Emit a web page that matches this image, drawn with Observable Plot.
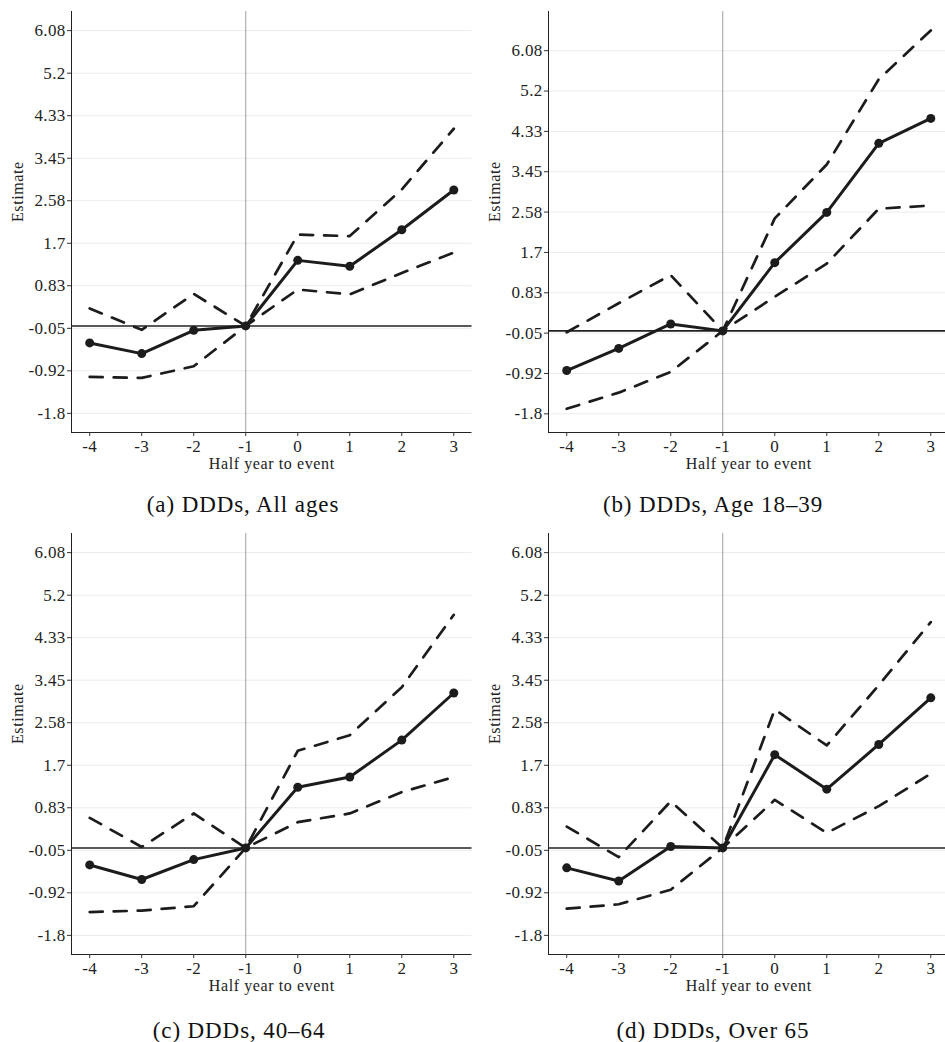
<!DOCTYPE html>
<html>
<head>
<meta charset="utf-8">
<script src="https://cdn.jsdelivr.net/npm/d3@7"></script>
<script src="https://cdn.jsdelivr.net/npm/@observablehq/plot@0.6"></script>
<style>
  html, body { margin: 0; padding: 0; background: #fff; }
  #fig { position: relative; width: 945px; height: 1042px; overflow: hidden; background: #fff; }
  .panel { position: absolute; width: 478px; height: 478px; }
  .panel svg { max-width: none !important; width: 478px; height: 478px; }
  .panel svg text { letter-spacing: 0.6px; }
  .panel svg g[aria-label$="tick label"] text { letter-spacing: 0.3px; }
  .cap { position: absolute; width: 470px; text-align: center; font-family: "Liberation Serif", serif;
         font-size: 23px; line-height: 23px; letter-spacing: 0.9px; color: #111; white-space: nowrap; }
</style>
</head>
<body>
<div id="fig"></div>
<script>
// ---- data ----
const periods = [-4, -3, -2, -1, 0, 1, 2, 3];

const yTicks  = [-1.8, -0.924, -0.049, 0.827, 1.702, 2.578, 3.453, 4.329, 5.204, 6.08];
const yLabels = ["-1.8", "-0.92", "-0.05", "0.83", "1.7", "2.58", "3.45", "4.33", "5.2", "6.08"];

const captions = ["(a) DDDs, All ages", "(b) DDDs, Age 18\u201339", "(c) DDDs, 40\u201364", "(d) DDDs, Over 65"];

// (a) All ages
const estA = [-0.35, -0.57, -0.09, 0, 1.35, 1.23, 1.98, 2.80];
const upA  = [0.36, -0.08, 0.66, 0, 1.88, 1.85, 2.81, 4.06];
const loA  = [-1.05, -1.07, -0.83, 0, 0.75, 0.65, 1.09, 1.51];
// (b) Age 18-39
const estB = [-0.86, -0.38, 0.15, 0, 1.48, 2.57, 4.07, 4.61];
const upB  = [-0.03, 0.60, 1.21, 0, 2.44, 3.61, 5.46, 6.52];
const loB  = [-1.69, -1.34, -0.89, 0, 0.74, 1.46, 2.65, 2.72];
// (c) 40-64
const estC = [-0.35, -0.65, -0.24, 0, 1.25, 1.46, 2.22, 3.19];
const upC  = [0.62, 0.02, 0.71, 0, 2.00, 2.32, 3.31, 4.80];
const loC  = [-1.32, -1.29, -1.20, 0, 0.53, 0.71, 1.15, 1.46];
// (d) Over 65
const estD = [-0.41, -0.68, 0.03, 0, 1.92, 1.21, 2.13, 3.09];
const upD  = [0.44, -0.19, 0.96, 0, 2.85, 2.11, 3.35, 4.65];
const loD  = [-1.25, -1.16, -0.86, 0, 0.99, 0.31, 0.86, 1.53];

const yDomainStd = [-2.194, 6.474];
const yDomainB   = [-2.205, 6.93];
const xDomain    = [-4.35, 3.35];

const labelMap = new Map(yTicks.map((t, i) => [t, yLabels[i]]));
const ink = "#1c1c1c";

function panel(est, up, lo, yDomain) {
  const data = periods.map((p, i) => ({p, est: est[i], up: up[i], lo: lo[i]}));
  return Plot.plot({
    width: 478, height: 478,
    marginLeft: 71, marginTop: 11, marginBottom: 46, marginRight: 6.5,
    style: {fontFamily: "'Liberation Serif', serif", fontSize: "16px", color: "#222", background: "transparent", overflow: "visible"},
    x: {domain: xDomain},
    y: {domain: yDomain},
    marks: [
      Plot.gridY(yTicks, {stroke: "#ebebeb", strokeOpacity: 1, strokeWidth: 1}),
      Plot.ruleX([-1], {stroke: "#a0a0a0", strokeWidth: 1}),
      Plot.ruleY([0], {stroke: "#222", strokeWidth: 1.6}),
      Plot.line(data, {x: "p", y: "up", stroke: ink, strokeWidth: 2.7, strokeDasharray: "13,11"}),
      Plot.line(data, {x: "p", y: "lo", stroke: ink, strokeWidth: 2.7, strokeDasharray: "13,11"}),
      Plot.line(data, {x: "p", y: "est", stroke: ink, strokeWidth: 3}),
      Plot.dot(data, {x: "p", y: "est", r: 4.5, fill: ink, stroke: "none"}),
      Plot.ruleX([xDomain[0]], {stroke: "#222", strokeWidth: 1}),
      Plot.ruleY([yDomain[0]], {stroke: "#222", strokeWidth: 1}),
      Plot.axisY(yTicks, {tickSize: 4, tickPadding: 2, tickFormat: d => labelMap.get(d), label: null, stroke: "#333", fill: "#222", fontSize: 17}),
      Plot.axisX(periods, {tickSize: 4, tickPadding: 3, tickFormat: d => String(d), label: null, stroke: "#333", fill: "#222", fontSize: 17}),
      Plot.text(["Half year to event"], {frameAnchor: "bottom", dy: 25, lineAnchor: "top", fontSize: 16, fill: "#222"}),
      Plot.text(["Estimate"], {frameAnchor: "left", dx: -54, rotate: -90, fontSize: 16, fill: "#222"})
    ]
  });
}

const fig = document.getElementById("fig");
const layout = [
  {est: estA, up: upA, lo: loA, dom: yDomainStd, left: 0,     top: 0,   capX: 8,   capTop: 493},
  {est: estB, up: upB, lo: loB, dom: yDomainB,   left: 476.7, top: 0,   capX: 478, capTop: 493},
  {est: estC, up: upC, lo: loC, dom: yDomainStd, left: 0,     top: 522, capX: 4,   capTop: 1019},
  {est: estD, up: upD, lo: loD, dom: yDomainStd, left: 476.7, top: 522, capX: 478, capTop: 1019}
];
layout.forEach((L, i) => {
  const wrap = document.createElement("div");
  wrap.className = "panel";
  wrap.style.left = L.left + "px";
  wrap.style.top = L.top + "px";
  wrap.appendChild(panel(L.est, L.up, L.lo, L.dom));
  fig.appendChild(wrap);
  const cap = document.createElement("div");
  cap.className = "cap";
  cap.style.left = L.capX + "px";
  cap.style.top = L.capTop + "px";
  cap.textContent = captions[i];
  fig.appendChild(cap);
});
</script>
</body>
</html>
